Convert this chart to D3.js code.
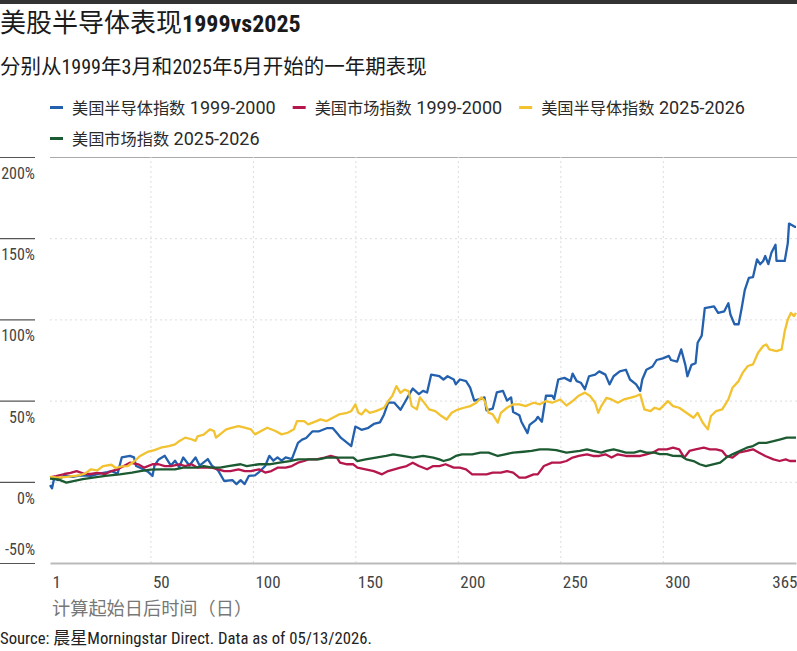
<!DOCTYPE html>
<html>
<head>
<meta charset="utf-8">
<script src="https://cdn.jsdelivr.net/npm/d3@7"></script>
<style>
body { margin: 0; background: #fff; }
text { font-family: Roboto, "Noto Sans CJK SC", sans-serif; }
</style>
</head>
<body>
<svg id="chart" width="797" height="651"></svg>
<script>
// series as [day, % return]
var seriesNames = ["美国半导体指数 1999-2000", "美国市场指数 1999-2000", "美国半导体指数 2025-2026", "美国市场指数 2025-2026"];
var seriesColors = ["#2360ad", "#b5164b", "#f2c230", "#1c5a32"];

var semi1999 = [[1,-2],[2,-4],[3,2],[5,1],[8,4],[12,3],[16,4],[21,3.6],[25,5],[29,6],[31,6.6],[34,5],[36,15],[40,16],[42,15],[43,9.7],[46,8],[49,6],[51,3.6],[52,10],[54,13.8],[57,16],[60,10],[62,13],[64,9],[66,15],[69,10],[72,15],[74,10],[78,14],[80,10],[83,7],[86,0.5],[90,1],[92,-1.4],[94,1],[96,-1.4],[98,3.6],[101,4],[103,6],[106,9.7],[108,16],[110,13],[112,15],[114,13],[116,15],[119,14],[122,24],[124,26],[126,27],[129,31],[132,31],[136,33],[139,33],[141,30],[143,27],[145,25],[148,22],[150,34],[153,32],[156,33],[159,35.6],[162,36.6],[164,41.5],[166,48.7],[169,48.7],[172,44.3],[174,48.7],[177,55.4],[178,57.4],[181,54],[183,56],[185,55],[187,66],[191,65],[193,63],[195,65],[198,63],[199,60],[201,63],[204,62],[206,58],[208,50],[211,51],[213,52],[214,44],[217,45],[219,55],[222,56],[224,50],[226,52],[227,43],[230,41],[231,37],[234,30],[235,35],[238,38],[239,40],[241,37],[242,45],[243,53],[246,53],[247,51],[249,63],[252,64],[255,62],[256,66.6],[258,62],[260,61],[262,57],[264,65],[267,66],[269,68],[272,66],[274,60],[276,65],[279,68],[282,69],[284,63],[287,60],[289,56],[290,63],[292,69],[295,71],[297,75],[300,76],[303,77.5],[304,75],[307,74],[309,81.5],[311,72],[312,65],[314,72],[316,73],[317,85.6],[319,90],[320.5,107],[325,108],[327,104],[330,105],[332,110],[333,103],[335,97],[337,97],[338.5,107],[340,118],[342,125.6],[344,126],[346,137],[347.5,134],[349,136],[350,139],[351.5,134],[353,141],[355,146],[355.5,136],[359.5,136],[361,147],[361.6,159],[364.4,157],[365,157]];

var mkt1999 = [[1,2.7],[4,3.5],[8,4.8],[11,5.5],[14,6.6],[18,4.8],[21,4.8],[24,5.5],[28,4.8],[31,6.6],[34,7.7],[37,9.7],[40,11.8],[44,10.8],[47,8.7],[51,10.8],[54,10.8],[57,9.7],[60,9.7],[64,10.8],[67,9.7],[70,10.8],[73,8.7],[76,8.7],[80,8.7],[86,6.6],[89,6.6],[93,7.7],[96,6.6],[99,6.6],[103,7.7],[106,5.7],[109,6.6],[112,8.7],[116,8.7],[119,9.7],[122,11.8],[125,12.8],[127,13.8],[131,13.8],[135,14.9],[138,15.9],[141,14.9],[142.5,11.8],[146,10.8],[149,10.8],[151,8.7],[155,7.7],[159,6.6],[163,4.6],[166,6.6],[169,7.7],[172,8.7],[175,9.7],[178,11.8],[181,9.7],[185,7.7],[188,9.7],[191,9.7],[194,10.8],[198,8.7],[201,8.7],[204,7.7],[207,4.6],[211,4.6],[214,4.6],[217,5.6],[221,5.6],[224,6.6],[227,5.6],[230,2.6],[233,2.6],[237,4.6],[239,4.6],[242,9.7],[246,11.8],[250,11.8],[253,12.8],[256,14.9],[259,15.9],[263,16.9],[266,15.9],[269,15.9],[272,16.9],[275,14.9],[278,16.9],[282,15.9],[285,15.9],[289,15.9],[292,16.9],[295,17.9],[298,20],[302,20],[305,21],[308,20],[310.5,14.9],[313,19],[316,20],[320,21],[323,20],[326,20],[329,19],[331,15.9],[334,14.9],[337,17.9],[341,19],[344,20],[347,17.9],[350,15.9],[354,13.8],[357,12.8],[360,13.8],[362,12.8],[365,12.8]];

var semi2025 = [[1,3],[5,2.5],[9,3],[15,4],[18,5],[21,7.7],[24,7],[27,9.7],[31,10.5],[33,8.5],[36,9.5],[39,9.7],[42,12.5],[45,15.9],[49,18.6],[52,19.5],[55,21],[59,22],[62,23],[64,25],[67,27.2],[70,26.2],[72,25.2],[73,28],[76,29],[79,32.3],[81,31.3],[82,27.2],[85,30.3],[87,32.3],[90,33.3],[93,34.3],[96,33.3],[99,32.3],[101,29.2],[104,31.3],[107,33.3],[111,31.3],[114,29.2],[117,30.2],[120,32.3],[121.5,37.4],[125,37.4],[127,35.4],[131,37.4],[133,38.4],[136,37.4],[139,39.4],[142,41.5],[146,42.5],[148,43.5],[150,47.7],[151.5,42.5],[153,41.5],[155,44.5],[157,42.5],[160,43.5],[164,45.6],[166,49.7],[168,52.8],[170,58.9],[172,54.8],[174,56.8],[176,55.8],[177.5,46.6],[180,44.6],[181.5,52],[184,48],[186,44.6],[189,43.5],[192,40.5],[194.5,38.4],[197,42.5],[200,44.5],[203,45.6],[206,46.6],[209,48.7],[211.5,52],[213,50],[215,42.5],[217,41.5],[219.5,36.4],[221,42.5],[224,45.6],[227,47.7],[230,47.7],[233,46.6],[237,48.7],[240,47.7],[243,49.7],[246,48.7],[250,50.7],[253,47],[256,49.7],[259,53],[262,54.9],[264.5,52.8],[267,48.7],[268.5,42.5],[270,46.6],[272.5,51.7],[275,50.7],[278,48.7],[281,50.7],[284,51.7],[287,52.8],[289,53.8],[291,44.6],[294,43.5],[296,45.6],[298.5,44.6],[302.5,49.7],[305,46.6],[308,45.6],[311.5,42.5],[315,39.4],[317,42.5],[319.5,36.4],[322,32.3],[323.5,40.5],[326,43.5],[329,44.6],[332,50.7],[334,57.9],[337,62],[339,67.2],[341.5,71.3],[344,72.3],[346.5,79.5],[349,83.6],[350.5,84.6],[352,81.5],[355.5,80.5],[358,81.5],[359.5,92.7],[361,100],[362.5,104],[364,102],[365,104]];

var mkt2025 = [[1,2],[5,1.5],[9,-0.5],[13,0.5],[17,1.6],[22,2.6],[28,3.6],[35,4.6],[41,5.7],[45,6.6],[50,7.5],[55,7.7],[62,7.7],[66,8.7],[72,8.7],[76,9.7],[80,8.7],[84,8.7],[88,9.7],[94,10.8],[97,9.7],[103,10.8],[108,10.8],[113,11.8],[118,12.8],[122,13.8],[127,13.8],[132,13.8],[136,14.9],[142,14.9],[149,14.9],[151,12.8],[155,13.8],[160,14.9],[165,15.9],[168.5,16.9],[173,15.9],[178,14.9],[183,15.9],[188,14.9],[191,13.8],[193,12.8],[196,13.8],[199,15.9],[202,16.9],[207,16.9],[211,18],[215,18],[219.5,15.9],[223,16.9],[227,18],[232,18.5],[236,19],[240,20],[244,20],[248,19.5],[253,18],[259.5,19],[263,20],[266,19],[270,18],[272.5,19],[276,20],[279,19],[282,18],[286,18],[289,19],[292,18],[296,18],[298.5,17],[302,17],[305,16],[309,15.9],[311.5,13.8],[315,12.8],[318,10.8],[321,9.7],[324.5,10.8],[328,11.8],[331,14.9],[334,16.9],[337.5,19],[341,21],[344,22],[347,24],[350.5,24],[354,25],[357,26],[360.5,27.2],[365,27.2]];

var yTicks = [200, 150, 100, 50, 0, -50];
var xTicks = [1, 50, 100, 150, 200, 250, 300, 365];
var xGrid = [50, 100, 150, 200, 250, 300];

var LATIN = "Roboto, sans-serif";
var CJK = "'Noto Sans CJK SC', sans-serif";
var cjkRe = /[\u2E80-\u9FFF\u3000-\u303F\uFF00-\uFFEF]/;

// split a string into CJK / latin runs, each with its own size
function mixedText(sel, str, cjkSize, latinSize, narrow) {
    str.split(/([\u2E80-\u9FFF\u3000-\u303F\uFF00-\uFFEF]+)/).forEach(function(part) {
        if (!part) return;
        var isCjk = cjkRe.test(part);
        sel.append("tspan").text(part)
            .style("font-family", isCjk ? CJK : LATIN)
            .style("font-stretch", !isCjk && narrow ? "condensed" : null)
            .style("font-size", (isCjk ? cjkSize : latinSize) + "px");
    });
    return sel;
}

var svg = d3.select("#chart");
var W = 797;
var plotLeft = 50, plotRight = 796, plotTop = 157, plotBottom = 563;

var x = d3.scaleLinear().domain([1, 365]).range([plotLeft, plotRight]);
var y = d3.scaleLinear().domain([-50, 200]).range([plotBottom, plotTop]);

// top bar
svg.append("rect").attr("x", 0).attr("y", 0).attr("width", W).attr("height", 4).attr("fill", "#333");

// title
var title = svg.append("text").attr("x", 0).attr("y", 32).attr("fill", "#1a1a1a");
title.append("tspan").style("font-family", CJK).style("font-size", "26px").text("美股半导体表现");
title.append("tspan").style("font-family", LATIN).style("font-size", "24px")
    .style("font-weight", "bold").style("font-stretch", "condensed").text("1999vs2025");

mixedText(svg.append("text").attr("x", 0).attr("y", 74).attr("fill", "#1a1a1a"),
    "分别从1999年3月和2025年5月开始的一年期表现", 20.5, 20, true);

// legend, flowing left to right
var legend = svg.append("g");
var lx = 50, ly = 107.5, rowH = 31, maxX = 790;
seriesNames.forEach(function(name, i) {
    var g = legend.append("g");
    g.append("line").attr("x1", 0).attr("x2", 13).attr("y1", 0).attr("y2", 0)
        .attr("stroke", seriesColors[i]).attr("stroke-width", 3);
    var t = mixedText(g.append("text").attr("x", 22).attr("y", 6.5).attr("fill", "#2a2a2a"), name, 16.2, 18, false);
    var w = 22 + t.node().getComputedTextLength();
    if (lx + w > maxX) { lx = 50; ly += rowH; }
    g.attr("transform", "translate(" + lx + "," + ly + ")");
    lx += w + 17;
});

// horizontal gridlines
var gridY = svg.append("g").attr("transform", "translate(" + plotLeft + ",0)")
    .call(d3.axisRight(y).tickValues(yTicks).tickSize(plotRight - plotLeft + 1).tickFormat(""));
gridY.select(".domain").remove();
gridY.selectAll(".tick line")
    .attr("stroke", function(d) { return d === 200 ? "#aaa" : "#ddd"; })
    .attr("stroke-dasharray", function(d) { return d === 200 ? null : "2,3"; })
    .attr("stroke-width", function(d) { return d === -50 ? 0 : 1; });

// vertical gridlines
var gridX = svg.append("g").attr("transform", "translate(0," + plotBottom + ")")
    .call(d3.axisBottom(x).tickValues(xGrid).tickSize(-(plotBottom - plotTop)).tickFormat(""));
gridX.select(".domain").remove();
gridX.selectAll(".tick line").attr("stroke", "#ddd").attr("stroke-dasharray", "2,3");

// y axis: short ticks at the left edge, labels under them
var yAxis = svg.append("g")
    .call(d3.axisRight(y).tickValues(yTicks).tickSize(35).tickFormat(function(d) { return d + "%"; }));
yAxis.select(".domain").remove();
yAxis.selectAll(".tick line").attr("stroke", "#555").attr("stroke-width", 1.2);
yAxis.selectAll(".tick text")
    .attr("x", 35).attr("dy", null)
    .attr("y", function(d) { return d === -50 ? -8.5 : 21.5; })
    .attr("text-anchor", "end")
    .style("font-size", "16px").style("font-family", LATIN).style("font-stretch", "condensed")
    .attr("fill", "#444");

// x axis
var xAxis = svg.append("g").attr("transform", "translate(0," + plotBottom + ")")
    .call(d3.axisBottom(x).tickValues(xTicks).tickSize(0).tickPadding(0));
xAxis.select(".domain").attr("stroke", "#bbb").attr("stroke-width", 2);
xAxis.selectAll(".tick text")
    .attr("y", 25).attr("dy", null)
    .attr("x", function(d) { return d === 365 ? 1 : 2; })
    .attr("text-anchor", function(d) { return d === 365 ? "end" : "start"; })
    .style("font-size", "17px").style("font-family", LATIN).style("font-stretch", "condensed")
    .attr("fill", "#444");

svg.append("text").attr("x", 52).attr("y", 615)
    .style("font-family", CJK).style("font-size", "18.2px").attr("fill", "#777")
    .text("计算起始日后时间（日）");

// lines
var line = d3.line().x(function(d) { return x(d[0]); }).y(function(d) { return y(d[1]); });
[semi1999, mkt1999, semi2025, mkt2025].forEach(function(s, i) {
    svg.append("path").datum(s).attr("d", line)
        .attr("fill", "none").attr("stroke", seriesColors[i])
        .attr("stroke-width", 2.3).attr("stroke-linejoin", "round");
});

mixedText(svg.append("text").attr("x", 0).attr("y", 644).attr("fill", "#222"),
    "Source: 晨星Morningstar Direct. Data as of 05/13/2026.", 17, 16.7, true);
</script>
</body>
</html>
